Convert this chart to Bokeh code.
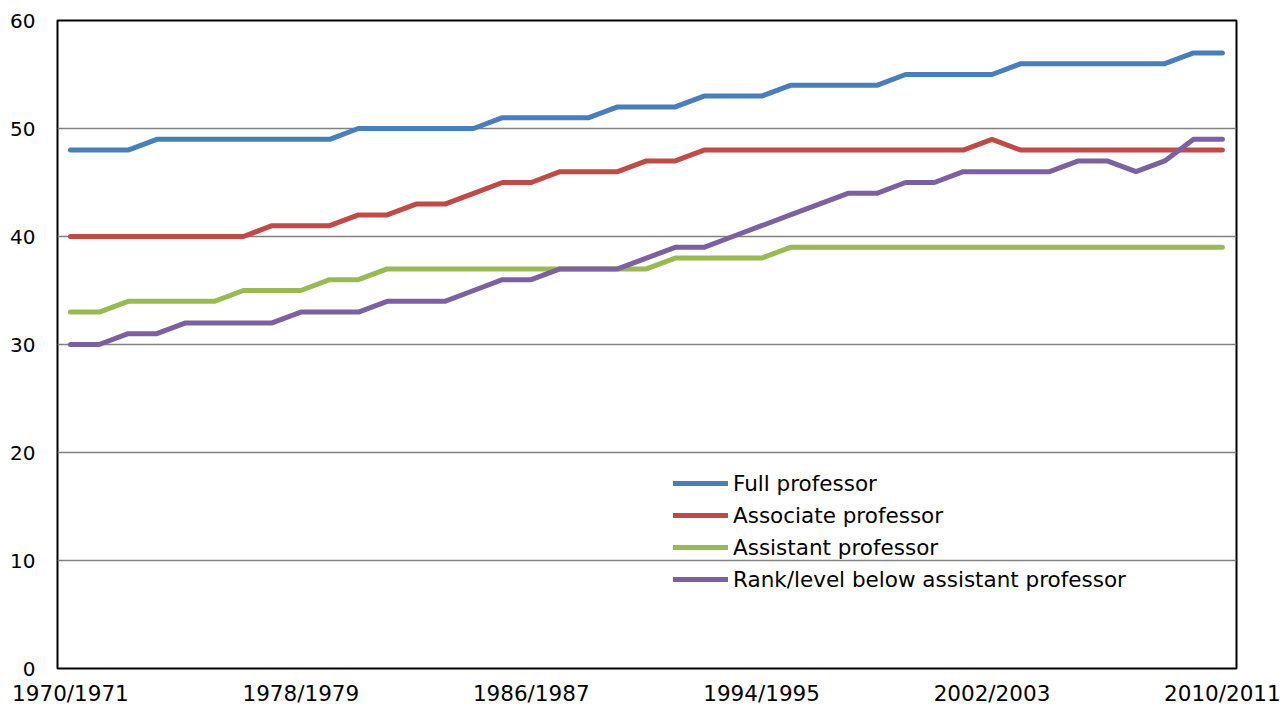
from bokeh.plotting import figure
from bokeh.models import FixedTicker, Legend, LegendItem, Range1d
from bokeh.embed import file_html
from bokeh.resources import INLINE

years = ["1970/1971", "1971/1972", "1972/1973", "1973/1974", "1974/1975", "1975/1976",
         "1976/1977", "1977/1978", "1978/1979", "1979/1980", "1980/1981", "1981/1982",
         "1982/1983", "1983/1984", "1984/1985", "1985/1986", "1986/1987", "1987/1988",
         "1988/1989", "1989/1990", "1990/1991", "1991/1992", "1992/1993", "1993/1994",
         "1994/1995", "1995/1996", "1996/1997", "1997/1998", "1998/1999", "1999/2000",
         "2000/2001", "2001/2002", "2002/2003", "2003/2004", "2004/2005", "2005/2006",
         "2006/2007", "2007/2008", "2008/2009", "2009/2010", "2010/2011"]

full_prof = [48, 48, 48, 49, 49, 49, 49, 49, 49, 49, 50, 50, 50, 50, 50, 51, 51, 51, 51, 52, 52,
             52, 53, 53, 53, 54, 54, 54, 54, 55, 55, 55, 55, 56, 56, 56, 56, 56, 56, 57, 57]
assoc_prof = [40, 40, 40, 40, 40, 40, 40, 41, 41, 41, 42, 42, 43, 43, 44, 45, 45, 46, 46, 46, 47,
              47, 48, 48, 48, 48, 48, 48, 48, 48, 48, 48, 49, 48, 48, 48, 48, 48, 48, 48, 48]
assist_prof = [33, 33, 34, 34, 34, 34, 35, 35, 35, 36, 36, 37, 37, 37, 37, 37, 37, 37, 37, 37, 37,
               38, 38, 38, 38, 39, 39, 39, 39, 39, 39, 39, 39, 39, 39, 39, 39, 39, 39, 39, 39]
below_assist = [30, 30, 31, 31, 32, 32, 32, 32, 33, 33, 33, 34, 34, 34, 35, 36, 36, 37, 37, 37, 38,
                39, 39, 40, 41, 42, 43, 44, 44, 45, 45, 46, 46, 46, 46, 47, 47, 46, 47, 49, 49]

series_names = ["Full professor", "Associate professor", "Assistant professor",
                "Rank/level below assistant professor"]
series_values = [full_prof, assoc_prof, assist_prof, below_assist]
colors = ["#4A7EBB", "#BE4B48", "#98B954", "#7D60A0"]
tick_index = [0, 8, 16, 24, 32, 40]
y_ticks = [0, 10, 20, 30, 40, 50, 60]

FONT = "DejaVu Sans"

p = figure(width=1283, height=708, output_backend="svg", toolbar_location=None,
           x_range=Range1d(-0.45, 40.49), y_range=Range1d(0, 60),
           min_border_left=57, min_border_right=47, min_border_top=20, min_border_bottom=38)

x = list(range(len(years)))
renderers = []
for vals, col in zip(series_values, colors):
    r = p.line(x, vals, line_color=col, line_width=5, line_cap="round", line_join="round")
    renderers.append(r)

p.outline_line_color = "black"
p.outline_line_width = 2

p.xgrid.grid_line_color = None
p.ygrid.ticker = FixedTicker(ticks=y_ticks)
p.ygrid.grid_line_color = "#808080"
p.ygrid.grid_line_width = 1.5

p.xaxis.ticker = FixedTicker(ticks=tick_index)
p.xaxis.major_label_overrides = {i: years[i] for i in tick_index}
p.yaxis.ticker = FixedTicker(ticks=y_ticks)

for ax in (p.xaxis[0], p.yaxis[0]):
    ax.axis_line_color = None
    ax.major_tick_line_color = None
    ax.minor_tick_line_color = None
    ax.major_tick_out = 0
    ax.major_tick_in = 0
    ax.minor_tick_out = 0
    ax.minor_tick_in = 0
    ax.major_label_text_font = FONT
    ax.major_label_text_color = "black"
p.yaxis.major_label_text_font_size = "20px"
p.xaxis.major_label_text_font_size = "21.5px"
p.yaxis.major_label_standoff = 22
p.xaxis.major_label_standoff = 12

legend = Legend(items=[LegendItem(label=n, renderers=[r]) for n, r in zip(series_names, renderers)],
                location=(616, 73), orientation="vertical")
legend.label_text_font = FONT
legend.label_text_font_size = "21.5px"
legend.label_text_color = "black"
legend.glyph_width = 55
legend.glyph_height = 32
legend.label_height = 32
legend.label_standoff = 5
legend.spacing = 0
legend.padding = 0
legend.margin = 0
legend.border_line_color = None
legend.background_fill_alpha = 0
p.add_layout(legend, "center")

open("out.html", "w").write(file_html(p, INLINE))
